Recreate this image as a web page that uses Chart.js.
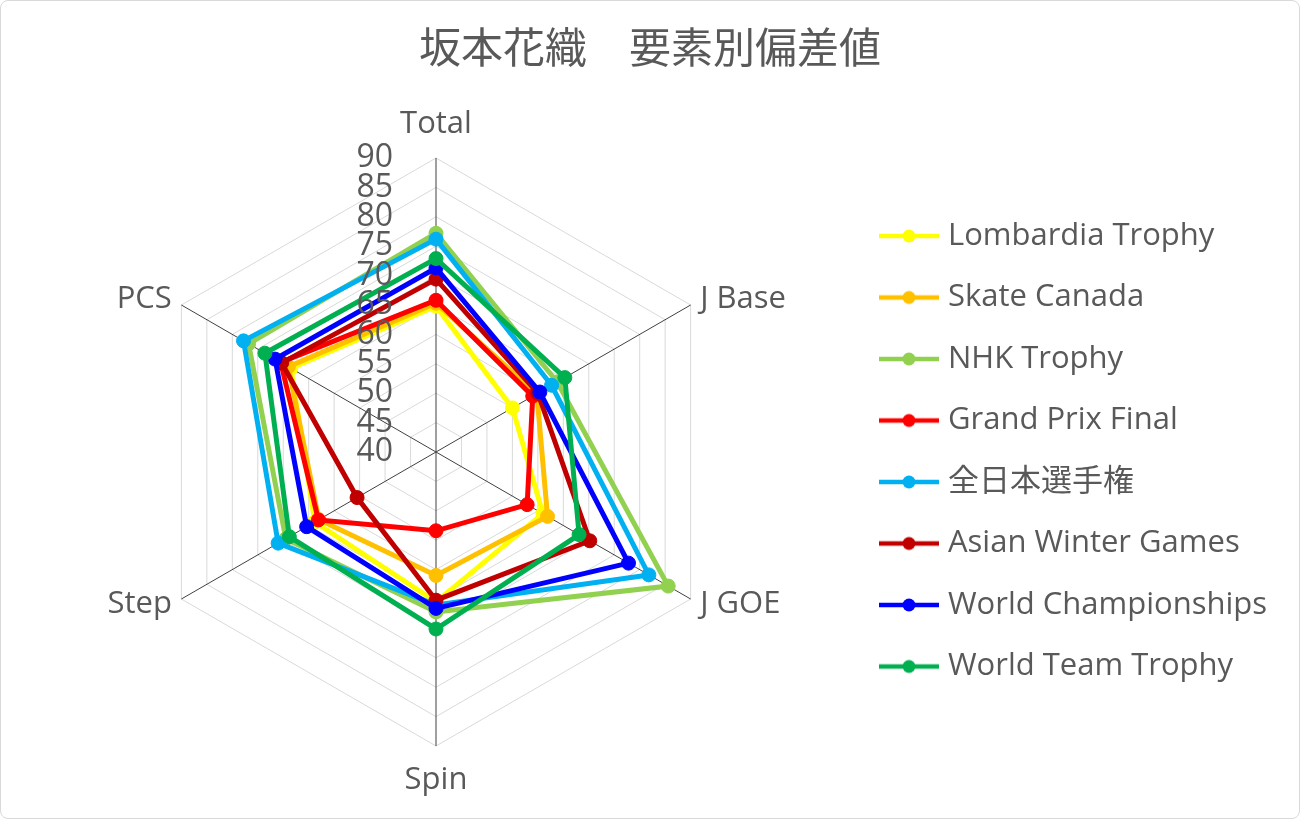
<!DOCTYPE html>
<html lang="ja">
<head>
<meta charset="utf-8">
<title>坂本花織 要素別偏差値</title>
<script src="https://cdn.jsdelivr.net/npm/chart.js@4.4.1/dist/chart.umd.min.js"></script>
<style>
  html, body { margin: 0; padding: 0; background: #fff; }
  #wrap { position: relative; width: 1300px; height: 819px; }
  #frame { position: absolute; inset: 0; border: 1px solid #d9d9d9; border-radius: 8px; box-sizing: border-box; pointer-events: none; }
  canvas { display: block; }
</style>
</head>
<body>
<div id="wrap">
  <canvas id="chart" width="1300" height="819"></canvas>
  <div id="frame"></div>
</div>
<script>
// axes of the radar
const elements = ['Total', 'J Base', 'J GOE', 'Spin', 'Step', 'PCS'];

// deviation scores per competition
const lombardia   = [64.8, 55.0, 61.0, 65.5, 63.8, 68.5];
const skateCanada = [65.3, 59.8, 61.9, 61.0, 63.0, 69.0];
const nhk         = [77.2, 63.8, 85.6, 67.2, 69.5, 76.8];
const gpFinal     = [65.8, 59.0, 57.9, 53.4, 63.1, 70.5];
const zenNihon    = [76.2, 62.7, 81.8, 66.0, 71.0, 77.8];
const asianGames  = [69.4, 60.0, 70.2, 65.2, 55.5, 70.3];
const worlds      = [71.3, 60.4, 77.8, 66.6, 65.4, 71.6];
const teamTrophy  = [72.9, 65.3, 68.1, 70.1, 68.8, 73.6];

const seriesNames = ['Lombardia Trophy', 'Skate Canada', 'NHK Trophy', 'Grand Prix Final',
  '全日本選手権', 'Asian Winter Games', 'World Championships', 'World Team Trophy'];
const seriesData = [lombardia, skateCanada, nhk, gpFinal, zenNihon, asianGames, worlds, teamTrophy];
const seriesColors = ['#FFFF00', '#FFC000', '#92D050', '#FF0000', '#00B0F0', '#C00000', '#0000FF', '#00B050'];

const scaleMin = 40, scaleMax = 90, scaleStep = 5;

const TEXT = '#595959';
const FONT = '"Open Sans", "Noto Sans CJK JP", sans-serif';

// plot geometry
const CENTER_X = 436, CENTER_Y = 452, RADIUS = 294;

// little "line with a dot" marker for the legend
function legendMarker(color) {
  const c = document.createElement('canvas');
  c.width = 60; c.height = 16;
  const g = c.getContext('2d');
  g.strokeStyle = color;
  g.lineWidth = 4.5;
  g.beginPath(); g.moveTo(0, 8); g.lineTo(60, 8); g.stroke();
  g.fillStyle = color;
  g.beginPath(); g.arc(30, 8, 6.5, 0, Math.PI * 2); g.fill();
  return c;
}
const markers = seriesColors.map(legendMarker);

// tick numbers left of the vertical axis, and the axis names
const axisText = {
  id: 'axisText',
  afterDatasetsDraw(chart) {
    const s = chart.scales.r;
    const ctx = chart.ctx;
    ctx.save();
    ctx.fillStyle = TEXT;
    ctx.font = '32px ' + FONT;
    ctx.textAlign = 'right';
    ctx.textBaseline = 'middle';
    s.ticks.forEach(t => {
      const d = s.getDistanceFromCenterForValue(t.value);
      ctx.fillText(String(t.value), s.xCenter - 43, s.yCenter - d);
    });

    ctx.font = '31px ' + FONT;
    chart.data.labels.forEach((label, i) => {
      const vertical = (i === 0 || i === 3);
      const p = s.getPointPosition(i, s.drawingArea + (vertical ? 34 : 11));
      if (vertical) ctx.textAlign = 'center';
      else ctx.textAlign = p.x > s.xCenter ? 'left' : 'right';
      ctx.fillText(label, p.x, p.y);
    });
    ctx.restore();
  }
};

const datasets = seriesNames.map((name, i) => ({
  label: name,
  data: seriesData[i],
  borderColor: seriesColors[i],
  backgroundColor: seriesColors[i],
  pointBackgroundColor: seriesColors[i],
  pointBorderColor: seriesColors[i],
  borderWidth: 5,
  pointRadius: 7,
  pointBorderWidth: 1,
  fill: false,
  order: seriesNames.length - i
}));

new Chart(document.getElementById('chart'), {
  type: 'radar',
  data: { labels: elements, datasets: datasets },
  options: {
    responsive: false,
    animation: false,
    layout: { padding: { top: 0, bottom: 0, left: 23, right: 23 } },
    elements: { line: { tension: 0 } },
    scales: {
      r: {
        min: scaleMin,
        max: scaleMax,
        ticks: { stepSize: scaleStep, display: false },
        grid: { color: '#d9d9d9', lineWidth: 1 },
        angleLines: { color: '#404040', lineWidth: 1 },
        pointLabels: { display: false },
        afterFit(scale) {
          scale.xCenter = CENTER_X;
          scale.yCenter = CENTER_Y;
          scale.drawingArea = RADIUS;
        }
      }
    },
    plugins: {
      title: {
        display: true,
        text: '坂本花織　要素別偏差値',
        color: TEXT,
        font: { family: FONT, size: 42, weight: 'normal' },
        padding: { top: 26, bottom: 7 }
      },
      legend: {
        position: 'right',
        align: 'center',
        fullSize: false,
        labels: {
          color: TEXT,
          font: { family: FONT, size: 31 },
          usePointStyle: true,
          pointStyleWidth: 47,
          padding: 30.5,
          sort: (a, b) => a.datasetIndex - b.datasetIndex,
          generateLabels(chart) {
            const items = Chart.defaults.plugins.legend.labels.generateLabels(chart);
            items.forEach(it => { it.pointStyle = markers[it.datasetIndex]; });
            return items;
          }
        }
      },
      tooltip: { enabled: false }
    }
  },
  plugins: [axisText]
});
</script>
</body>
</html>
